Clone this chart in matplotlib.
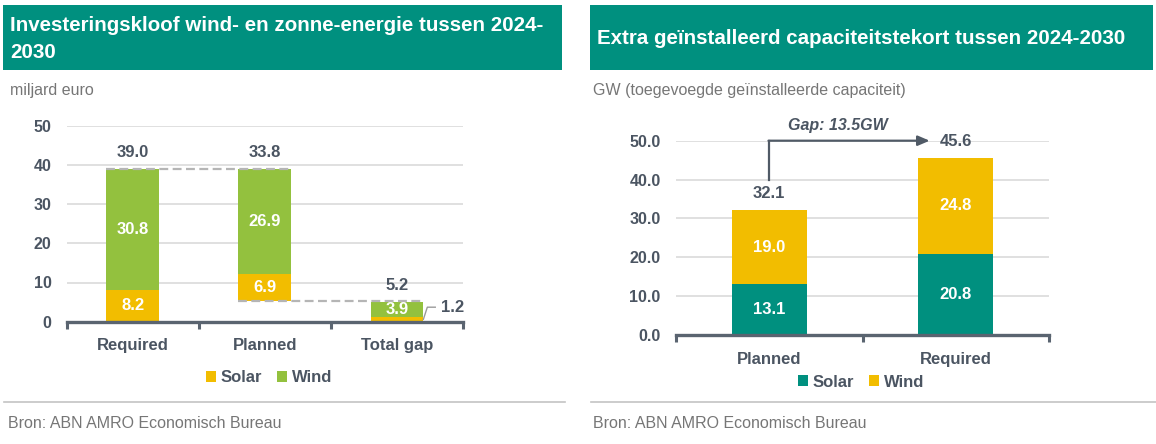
import matplotlib.pyplot as plt
from matplotlib.patches import Rectangle

plt.rcParams["font.family"] = ["Liberation Sans", "DejaVu Sans"]

W, H = 1156, 444

TEAL = "#00907f"
YELLOW = "#f2bd00"
GREEN = "#93c13e"
DARK = "#4b5562"
GREY_TXT = "#767676"
GRID = "#dadada"

# left chart: investment gap (miljard euro)
left_title = "Investeringskloof wind- en zonne-energie tussen 2024-\n2030"
left_unit = "miljard euro"
left_cats = ["Required", "Planned", "Total gap"]
left_solar = [8.2, 6.9, 1.2]
left_wind = [30.8, 26.9, 3.9]
left_totals = [39.0, 33.8, 5.2]

# right chart: installed capacity gap (GW)
right_title = "Extra geïnstalleerd capaciteitstekort tussen 2024-2030"
right_unit = "GW (toegevoegde geïnstalleerde capaciteit)"
right_cats = ["Planned", "Required"]
right_solar = [13.1, 20.8]
right_wind = [19.0, 24.8]
right_totals = [32.1, 45.6]

source = "Bron: ABN AMRO Economisch Bureau"


def px_rect(x0, y0, x1, y1):
    # pixel box (top-left origin) -> figure fraction rect
    return [x0 / W, 1 - y1 / H, (x1 - x0) / W, (y1 - y0) / H]


def style_axes(ax, ncat, fmt):
    ax.set_xlim(-0.5, ncat - 0.5)
    ax.set_ylim(0, 50)
    ax.set_yticks(range(0, 51, 10))
    ax.set_yticklabels([fmt.format(v) for v in range(0, 51, 10)])
    for s in ("top", "right", "left"):
        ax.spines[s].set_visible(False)
    ax.spines["bottom"].set_color("#5a6470")
    ax.spines["bottom"].set_linewidth(2.4)
    ax.grid(axis="y", color=GRID, linewidth=1.2)
    ax.set_axisbelow(True)
    ax.tick_params(axis="y", length=0, pad=11, labelsize=11.5, labelcolor=DARK)
    ax.tick_params(axis="x", which="major", length=0, pad=12, labelsize=12, labelcolor=DARK)
    ax.set_xticks([i - 0.5 for i in range(ncat + 1)], minor=True)
    ax.tick_params(axis="x", which="minor", length=5, width=2.2, color="#5a6470", direction="out")
    for lab in ax.get_yticklabels() + ax.get_xticklabels():
        lab.set_fontweight("bold")


fig = plt.figure(figsize=(W / 100, H / 100), dpi=100)

# title bars
fig.patches.append(Rectangle((3 / W, 1 - 70 / H), 559 / W, 65 / H, transform=fig.transFigure,
                             facecolor=TEAL, edgecolor="none"))
fig.patches.append(Rectangle((590 / W, 1 - 70 / H), 563 / W, 65 / H, transform=fig.transFigure,
                             facecolor=TEAL, edgecolor="none"))
fig.text(10 / W, 1 - 39 / H, left_title, color="white", fontsize=14.8, fontweight="bold",
         va="center", ha="left", linespacing=1.55)
fig.text(597 / W, 1 - 39 / H, right_title, color="white", fontsize=14.8, fontweight="bold",
         va="center", ha="left")
fig.text(10 / W, 1 - 91 / H, left_unit, color=GREY_TXT, fontsize=11.5, va="center")
fig.text(593 / W, 1 - 91 / H, right_unit, color=GREY_TXT, fontsize=11.5, va="center")

# bottom rules and source
fig.add_artist(plt.Line2D([4 / W, 565 / W], [1 - 402 / H] * 2, transform=fig.transFigure,
                          color="#c4c4c4", linewidth=1.2))
fig.add_artist(plt.Line2D([591 / W, 1156 / W], [1 - 402 / H] * 2, transform=fig.transFigure,
                          color="#c4c4c4", linewidth=1.2))
fig.text(8 / W, 1 - 423 / H, source, color=GREY_TXT, fontsize=11.5, va="center")
fig.text(593 / W, 1 - 423 / H, source, color=GREY_TXT, fontsize=11.5, va="center")

# ---- left chart
ax1 = fig.add_axes(px_rect(66.7, 125.7, 463, 321.7))
style_axes(ax1, len(left_cats), "{:d}")
ax1.set_xticks(range(len(left_cats)))
ax1.set_xticklabels(left_cats, fontweight="bold")
bw = 0.4
# planned bar floats: it starts where the required total minus planned total ends
left_base = [0.0, left_totals[0] - left_totals[1], 0.0]
x1 = list(range(len(left_cats)))
b_sol = ax1.bar(x1, left_solar, bw, bottom=left_base, color=YELLOW, label="Solar", zorder=2)
b_wind = ax1.bar(x1, left_wind, bw, bottom=[b + s for b, s in zip(left_base, left_solar)],
                 color=GREEN, label="Wind", zorder=2)
dash = dict(color="#b5b5b5", linewidth=1.6, linestyle=(0, (4, 2)), zorder=3)
ax1.plot([0 - bw / 2, 1 + bw / 2], [left_totals[0]] * 2, **dash)
ax1.plot([1 - bw / 2, 2 + bw / 2], [left_base[1]] * 2, **dash)
for i in x1:
    top = left_base[i] + left_solar[i] + left_wind[i]
    ax1.annotate(f"{left_totals[i]:.1f}", (i, top), xytext=(0, 12),
                 textcoords="offset points", ha="center", va="center",
                 fontsize=12, fontweight="bold", color=DARK)
    ax1.text(i, left_base[i] + left_solar[i] + left_wind[i] / 2, f"{left_wind[i]:.1f}",
             ha="center", va="center", color="white", fontsize=12, fontweight="bold", zorder=4)
    if i < 2:
        ax1.text(i, left_base[i] + left_solar[i] / 2, f"{left_solar[i]:.1f}",
                 ha="center", va="center", color="white", fontsize=12, fontweight="bold", zorder=4)
# small solar segment of the gap bar gets a leader line
ax1.plot([2 + bw / 2, 2.23, 2.29], [left_solar[2] / 2, 3.7, 3.7], color="#9a9a9a", linewidth=1,
         clip_on=False)
ax1.text(2.42, 3.6, f"{left_solar[2]:.1f}", ha="center", va="center", fontsize=12,
         fontweight="bold", color=DARK, clip_on=False)
fig.legend(handles=[b_sol, b_wind], loc="center", bbox_to_anchor=(269 / W, 1 - 378 / H),
           ncol=2, frameon=False, handlelength=0.6, handleheight=0.6, handletextpad=0.3,
           columnspacing=0.9, prop=dict(size=12, weight="bold"), labelcolor=DARK)

# ---- right chart
ax2 = fig.add_axes(px_rect(676, 140.7, 1049, 335))
style_axes(ax2, len(right_cats), "{:.1f}")
ax2.set_xticks(range(len(right_cats)))
ax2.set_xticklabels(right_cats, fontweight="bold")
x2 = list(range(len(right_cats)))
r_sol = ax2.bar(x2, right_solar, bw, color=TEAL, label="Solar", zorder=2)
r_wind = ax2.bar(x2, right_wind, bw, bottom=right_solar, color=YELLOW, label="Wind", zorder=2)
for i in x2:
    top = right_solar[i] + right_wind[i]
    ax2.annotate(f"{right_totals[i]:.1f}", (i, top), xytext=(0, 12),
                 textcoords="offset points", ha="center", va="center",
                 fontsize=12, fontweight="bold", color=DARK)
    ax2.text(i, right_solar[i] / 2, f"{right_solar[i]:.1f}", ha="center", va="center",
             color="white", fontsize=12, fontweight="bold", zorder=4)
    ax2.text(i, right_solar[i] + right_wind[i] / 2, f"{right_wind[i]:.1f}", ha="center",
             va="center", color="white", fontsize=12, fontweight="bold", zorder=4)
gap = right_totals[1] - right_totals[0]
ax2.plot([0, 0], [40, 50], color="#505a66", linewidth=1.6, clip_on=False, zorder=3)
ax2.annotate("", xy=(0.86, 50), xytext=(-0.004, 50),
             arrowprops=dict(arrowstyle="-|>,head_length=0.7,head_width=0.3",
                             color="#505a66", linewidth=1.6, shrinkA=0, shrinkB=0),
             annotation_clip=False, zorder=3)
ax2.text(0.37, 54, f"Gap: {gap:.1f}GW", ha="center", va="center", fontsize=11.5,
         fontweight="bold", style="italic", color=DARK, clip_on=False)
fig.legend(handles=[r_sol, r_wind], loc="center", bbox_to_anchor=(861 / W, 1 - 382 / H),
           ncol=2, frameon=False, handlelength=0.6, handleheight=0.6, handletextpad=0.3,
           columnspacing=0.9, prop=dict(size=12, weight="bold"), labelcolor=DARK)

fig.savefig("out.png", dpi=100)
